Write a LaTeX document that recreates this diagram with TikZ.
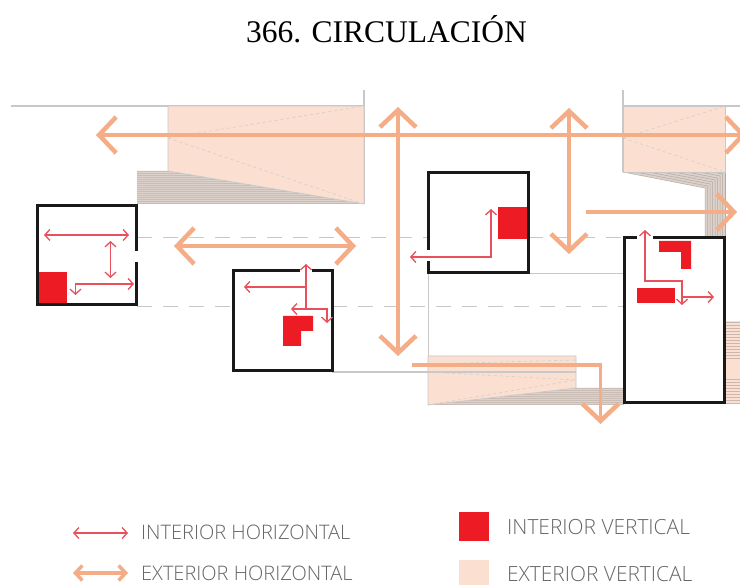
\documentclass[tikz,border=0pt]{standalone}
\usepackage{fontspec}
\setmainfont{Liberation Serif}
\newfontfamily\legendfont{Open Sans Light}
\usetikzlibrary{arrows.meta}
\definecolor{extarrow}{HTML}{F4AD86}
\definecolor{extpink}{HTML}{FBDFD1}
\definecolor{intred}{HTML}{ED1C24}
\definecolor{intarrow}{HTML}{E8505B}
\definecolor{hatchgrey}{HTML}{C9BDB6}
\definecolor{hatchlight}{HTML}{DCD2CB}
\definecolor{hatchdark}{HTML}{B5A89F}
\definecolor{wallgrey}{HTML}{C8C8C8}
\definecolor{legendgrey}{HTML}{666666}
\tikzset{
  x=1pt,y=-1pt,
  ebarb/.tip={Straight Barb[length=17pt,width=36pt,line width=4.5pt]},
  ibarb/.tip={Straight Barb[length=5pt,width=11pt,line width=1.3pt]},
  exthead/.style={-ebarb},
  extboth/.style={ebarb-ebarb},
  extline/.style={draw=extarrow,line width=3.6pt},
  intline/.style={draw=intarrow,line width=1.3pt},
  intend/.style={-ibarb},
  intboth/.style={ibarb-ibarb},
  wall/.style={draw=black!90,line width=3pt,line cap=square},
  thin wall/.style={draw=wallgrey,line width=1.1pt},
  axis/.style={draw=wallgrey,line width=1.7pt,dash pattern=on 15pt off 11pt},
  pinkfill/.style={fill=extpink,draw=wallgrey,line width=.7pt},
  hatch/.style={fill=hatchgrey,draw=none},
  stripe/.style={draw=hatchdark,line width=.5pt},
  redfill/.style={fill=intred,draw=none},
  crease/.style={draw=wallgrey!80!extpink,line width=.6pt,dashed},
  legendtext/.style={anchor=west,inner sep=0pt,text=legendgrey},
}
\begin{document}
\begin{tikzpicture}
\path[use as bounding box] (0,0) rectangle (740,585);
\clip (0,0) rectangle (740,585);
\fill[white] (0,0) rectangle (740,585);
\node[font=\fontsize{31.5}{32}\selectfont,inner sep=0pt] (title) at (386.5,29) {366. CIRCULACIÓN};
% axes
\draw[axis] (137,237.5) -- (428,237.5);
\draw[axis] (528,237.5) -- (625,237.5);
\draw[axis] (137,306.5) -- (233,306.5);
\draw[axis] (332,306.5) -- (625,306.5);
% thin walls
\draw[thin wall] (11,106) -- (364,106);
\draw[thin wall] (364,90) -- (364,204);
\draw[thin wall] (623,90) -- (623,172);
\draw[thin wall] (623,106) -- (740,106);
\draw[thin wall] (332,372) -- (429,372);
\draw[thin wall] (528,273.5) -- (624,273.5);
\draw[thin wall] (428.5,273) -- (428.5,405);
% top-left stair
\path[hatch] (137,171) -- (168,171) -- (364,204) -- (137,204) -- cycle;
\begin{scope}
\clip (137,171) -- (168,171) -- (364,204) -- (137,204) -- cycle;
\foreach \s in {172,174,...,204} \draw[stripe,draw=hatchlight] (137,\s) -- (364,\s);
\end{scope}
\path[pinkfill] (168,106) -- (364,106) -- (364,204) -- (168,171) -- cycle;
\draw[crease] (168,138) -- (364,106);
\draw[crease] (168,138) -- (364,204);
% top-right stair
\path[fill=hatchlight] (623,172) -- (725,172) -- (725,237) -- (705,237) -- (705,188) -- cycle;
\foreach \t in {0,0.125,...,1.01} {
  \pgfmathsetmacro{\sx}{705+20*\t}
  \pgfmathsetmacro{\sy}{188-16*\t}
  \pgfmathsetmacro{\tx}{623+102*\t}
  \draw[stripe] (\sx,237) -- (\sx,\sy) -- (\tx,172);
}
\path[pinkfill] (623,106) -- (725,106) -- (725,172) -- (623,172) -- cycle;
\draw[crease] (623,138) -- (725,106);
\draw[crease] (623,138) -- (725,172);
% bottom stair
\path[hatch] (576,388) -- (624,388) -- (624,405) -- (428,405) -- cycle;
\begin{scope}
\clip (576,388) -- (624,388) -- (624,405) -- (428,405) -- cycle;
\foreach \s in {389,391,...,405} \draw[stripe,draw=hatchlight] (428,\s) -- (624,\s);
\end{scope}
\path[pinkfill] (428,356) -- (576,356) -- (576,388) -- (428,405) -- cycle;
\draw[thin wall] (428,372) -- (576,372);
\draw[crease] (428,364) -- (576,360);
\draw[crease] (428,372) -- (576,380);
\draw[crease] (428,405) -- (576,380);
% right edge stair
\path[fill=extpink] (725,321) rectangle (740,404);
\foreach \s in {322,325,...,358} \draw[stripe,line width=.8pt,draw=hatchdark!70!extpink] (725,\s) -- (740,\s);
\foreach \s in {379,382,...,403} \draw[stripe,line width=.8pt,draw=hatchdark!70!extpink] (725,\s) -- (740,\s);
% red blocks
\path[redfill] (38,272) rectangle (67,304);
\path[redfill] (283,316) -- (313,316) -- (313,331) -- (301,331) -- (301,346) -- (283,346) -- cycle;
\path[redfill] (498,207) rectangle (527,239);
\path[redfill] (659,241) -- (691,241) -- (691,269) -- (681,269) -- (681,252) -- (659,252) -- cycle;
\path[redfill] (637,288) rectangle (675,303);
% rooms
\draw[wall] (136,251) -- (136,206) -- (37,206) -- (37,305) -- (136,305) -- (136,262);
\draw[wall] (300,271) -- (233,271) -- (233,371) -- (332,371) -- (332,271) -- (312,271);
\draw[wall] (428,250) -- (428,173) -- (528,173) -- (528,273) -- (428,273) -- (428,261);
\draw[wall] (637,238) -- (624,238) -- (624,403) -- (724,403) -- (724,238) -- (653,238);
% exterior arrows
\coordinate (eL) at (96,135); \coordinate (eR) at (746,135);
\draw[extline,extboth] (eL) -- (eR);
\coordinate (v1a) at (398,107); \coordinate (v1b) at (398,356);
\draw[extline,extboth] (v1a) -- (v1b);
\coordinate (v2a) at (569,108); \coordinate (v2b) at (569,254);
\draw[extline,extboth] (v2a) -- (v2b);
\coordinate (h1a) at (174,246); \coordinate (h1b) at (356,246);
\draw[extline,extboth] (h1a) -- (h1b);
\coordinate (h2a) at (586,212); \coordinate (h2b) at (737,212);
\draw[extline,exthead] (h2a) -- (h2b);
\coordinate (b1) at (412,365); \coordinate (b2) at (600.5,365); \coordinate (b3) at (600.5,424);
\draw[extline,exthead] (b1) -- (b2) -- (b3);
% interior arrows room 1
\draw[intline,intboth] (44,235) -- (129,235);
\draw[intline,intboth] (110.5,241) -- (110.5,278);
\draw[intline,intboth] (75.5,295) -- (75.5,284) -- (134,284);
% room 2
\draw[intline,intend] (306,308) -- (306,264);
\draw[intline,intend] (306,287) -- (244,287);
\draw[intline,intend] (306,309) -- (291,309);
\draw[intline,intend] (306,309) -- (327,309) -- (327,323);
% room 3
\draw[intline,intboth] (410,257) -- (491,257) -- (491,209);
% room 4
\draw[intline,intboth] (645,230) -- (645,281) -- (682,281) -- (682,305);
\draw[intline,intend] (682,297) -- (714,297);
% legend
\coordinate (l1a) at (73,533); \coordinate (l1b) at (128,533);
\draw[intline,intboth] (l1a) -- (l1b);
\coordinate (l2a) at (73,573); \coordinate (l2b) at (128,573);
\draw[draw=extarrow,line width=3.5pt,{Straight Barb[length=7pt,width=15pt,line width=3.5pt]}-{Straight Barb[length=7pt,width=15pt,line width=3.5pt]}] (l2a) -- (l2b);
\node[legendtext,font=\legendfont\fontsize{20}{20}\selectfont] (t1) at (141,532) {INTERIOR HORIZONTAL};
\node[legendtext,font=\legendfont\fontsize{20}{20}\selectfont] (t2) at (141,573) {EXTERIOR HORIZONTAL};
\path[redfill] (459,512) rectangle (489,541);
\fill[extpink] (459,560) rectangle (489,585);
\node[legendtext,font=\legendfont\fontsize{20.9}{21}\selectfont] (t3) at (507,527) {INTERIOR VERTICAL};
\node[legendtext,font=\legendfont\fontsize{20.9}{21}\selectfont] (t4) at (507,574) {EXTERIOR VERTICAL};
\end{tikzpicture}
\end{document}
